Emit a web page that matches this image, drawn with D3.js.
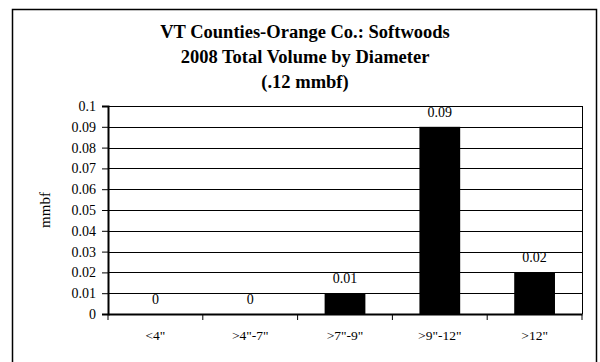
<!DOCTYPE html>
<html>
<head>
<meta charset="utf-8">
<script src="https://cdn.jsdelivr.net/npm/d3@7"></script>
<style>
  html, body { margin: 0; padding: 0; background: #fff; }
  svg { display: block; }
  svg text { font-family: "Liberation Serif", "Times New Roman", serif !important; fill: #000; }
</style>
</head>
<body>
<svg id="chart" width="600" height="362"></svg>
<script>
const categories = ['<4"', '>4"-7"', '>7"-9"', '>9"-12"', '>12"'];
const values = [0, 0, 0.01, 0.09, 0.02];
const valueLabels = ["0", "0", "0.01", "0.09", "0.02"];
const yTicks = [0, 0.01, 0.02, 0.03, 0.04, 0.05, 0.06, 0.07, 0.08, 0.09, 0.1];
const yTickLabels = ["0", "0.01", "0.02", "0.03", "0.04", "0.05", "0.06", "0.07", "0.08", "0.09", "0.1"];
const titleLines = ["VT Counties-Orange Co.: Softwoods", "2008 Total Volume by Diameter", "(.12 mmbf)"];
const yAxisTitle = "mmbf";

const svg = d3.select("#chart");
const plot = { left: 108, right: 582, top: 106, bottom: 314 };

// outer frame
svg.append("rect")
  .attr("x", 12.5).attr("y", 9.5)
  .attr("width", 584).attr("height", 370)
  .attr("fill", "none").attr("stroke", "#000").attr("stroke-width", 1.5);

// title
const titleBase = [37.5, 62.5, 87.5];
svg.selectAll("text.title").data(titleLines).enter().append("text")
  .attr("class", "title")
  .attr("x", 305).attr("y", (d, i) => titleBase[i])
  .attr("text-anchor", "middle")
  .style("font-size", "18.5px").style("font-weight", "bold")
  .text(d => d);

const x = d3.scaleBand().domain(categories).range([plot.left, plot.right]).padding(0);
const y = d3.scaleLinear().domain([0, 0.1]).range([plot.bottom, plot.top]);

// gridlines
svg.append("g").selectAll("line").data(yTicks.slice(1)).enter().append("line")
  .attr("x1", plot.left).attr("x2", plot.right)
  .attr("y1", d => Math.round(y(d)) + 0.5).attr("y2", d => Math.round(y(d)) + 0.5)
  .attr("stroke", "#000").attr("stroke-width", 1);

// right border of plot
svg.append("line")
  .attr("x1", plot.right + 0.5).attr("x2", plot.right + 0.5)
  .attr("y1", plot.top).attr("y2", plot.bottom)
  .attr("stroke", "#000").attr("stroke-width", 1);

// bars
const barW = x.bandwidth() * 0.43;
svg.append("g").selectAll("rect").data(values).enter().append("rect")
  .attr("x", (d, i) => x(categories[i]) + (x.bandwidth() - barW) / 2)
  .attr("y", d => y(d))
  .attr("width", barW)
  .attr("height", d => y(0) - y(d))
  .attr("fill", "#000");

// value labels
svg.append("g").selectAll("text").data(values).enter().append("text")
  .attr("x", (d, i) => x(categories[i]) + x.bandwidth() / 2)
  .attr("y", d => y(d) - 10)
  .attr("text-anchor", "middle")
  .style("font-size", "14px")
  .text((d, i) => valueLabels[i]);

// y axis
const yAxis = d3.axisLeft(y).tickValues(yTicks).tickSize(6).tickPadding(6)
  .tickFormat((d, i) => yTickLabels[i]);
const gy = svg.append("g").attr("transform", `translate(${plot.left},0)`).call(yAxis);
gy.select(".domain").attr("stroke", "#000").attr("stroke-width", 2);
gy.selectAll(".tick line").attr("stroke", "#000");
gy.selectAll(".tick text").style("font-size", "14px");

// x axis
const xAxis = d3.axisBottom(x).tickSize(0).tickPadding(16);
const gx = svg.append("g").attr("transform", `translate(0,${plot.bottom})`).call(xAxis);
gx.select(".domain").attr("stroke", "#000").attr("stroke-width", 2);
gx.selectAll(".tick text").style("font-size", "13.5px");
// category boundary ticks
const bounds = categories.map(c => x(c)).concat([x.range()[1]]);
gx.append("g").selectAll("line").data(bounds).enter().append("line")
  .attr("x1", d => d).attr("x2", d => d)
  .attr("y1", 0).attr("y2", 6)
  .attr("stroke", "#000").attr("stroke-width", 1);

// y axis title
svg.append("text")
  .attr("transform", `translate(50,${(plot.top + plot.bottom) / 2}) rotate(-90)`)
  .attr("text-anchor", "middle")
  .style("font-size", "15px")
  .text(yAxisTitle);
</script>
</body>
</html>
